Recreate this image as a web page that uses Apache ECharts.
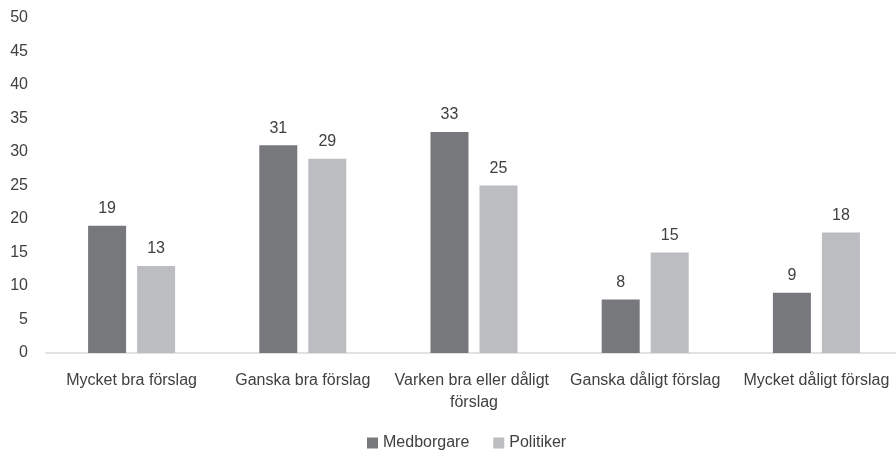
<!DOCTYPE html>
<html><head><meta charset="utf-8">
<script src="https://cdn.jsdelivr.net/npm/echarts@6/dist/echarts.min.js"></script>
<style>html,body{margin:0;padding:0;background:#fff}#c{width:896px;height:450px}</style>
</head><body><div id="c"></div>
<script>
var categories = ["Mycket bra förslag","Ganska bra förslag","Varken bra eller dåligt förslag","Ganska dåligt förslag","Mycket dåligt förslag"];
var medborgare = [19,31,33,8,9];
var politiker = [13,29,25,15,18];
var seriesNames = ["Medborgare","Politiker"];
var chart = echarts.init(document.getElementById('c'));
var txt = '#404040', font = '"Liberation Sans", Arial, sans-serif', fs = 16;
chart.setOption({
  animation:false,
  textStyle:{fontFamily:font},
  grid:{left:46,width:856,top:18,bottom:97,outerBoundsMode:'none',containLabel:false},
  legend:{top:430,left:362,itemWidth:11,itemHeight:11,itemGap:24,icon:'rect',
    textStyle:{color:txt,fontSize:fs,fontFamily:font},data:seriesNames},
  xAxis:{type:'category',data:categories,
    axisLine:{lineStyle:{color:'#d9d9d9',width:1.5}},axisTick:{show:false},
    axisLabel:{color:txt,fontSize:fs,fontFamily:font,margin:17,width:176,overflow:'break',lineHeight:22,interval:0}},
  yAxis:{type:'value',min:0,max:50,interval:5,splitLine:{show:false},
    axisLabel:{color:txt,fontSize:fs,fontFamily:font,margin:18}},
  series:[
    {name:seriesNames[0],type:'bar',data:medborgare,barWidth:38,barGap:'29%',
     itemStyle:{color:'#77787b'},label:{show:true,position:'top',distance:9,color:txt,fontSize:fs,fontFamily:font}},
    {name:seriesNames[1],type:'bar',data:politiker,barWidth:38,
     itemStyle:{color:'#bcbdc0'},label:{show:true,position:'top',distance:9,color:txt,fontSize:fs,fontFamily:font}}
  ]
});
</script></body></html>
